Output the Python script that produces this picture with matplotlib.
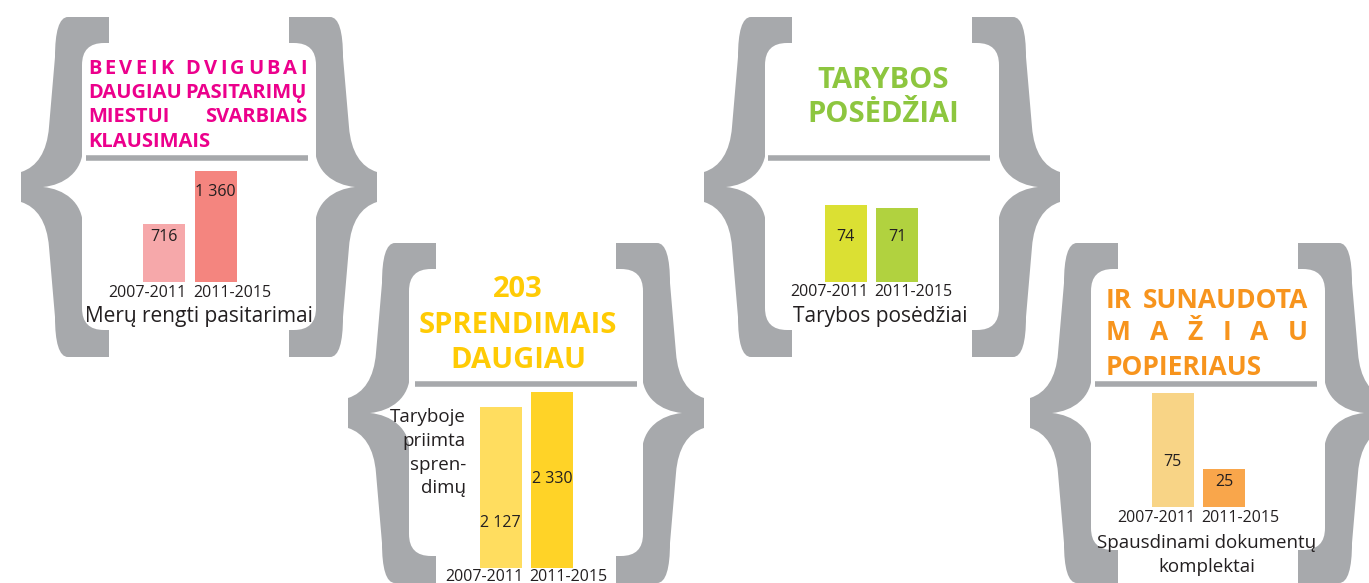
import matplotlib
matplotlib.use('Agg')
import matplotlib.pyplot as plt
from matplotlib.path import Path
from matplotlib.patches import PathPatch, FancyBboxPatch

# duomenys
periods = ["2007-2011", "2011-2015"]
pasitarimai = [716, 1360]
sprendimai = [2127, 2330]
posedziai = [74, 71]
komplektai = [75, 25]

GRAY = "#A7A9AC"
TXT = "#231F20"
FONT = "Open Sans"

W, H = 1369, 583
fig = plt.figure(figsize=(W / 100, H / 100), dpi=100)
bg = fig.add_axes([0, 0, 1, 1])
bg.set_xlim(0, W)
bg.set_ylim(H, 0)
bg.axis('off')
renderer = fig.canvas.get_renderer()

# kairysis riestinis skliaustas (pikseliai, 87 x 340)
M, L, C = Path.MOVETO, Path.LINETO, Path.CURVE4
BRACE = [
    (M, (49, 0)), (L, (90, 0)), (L, (90, 40)), (L, (66, 60)), (L, (64, 130)),
    (C, (64, 155)), (C, (45, 168)), (C, (24, 170)),
    (C, (45, 172)), (C, (64, 185)), (C, (64, 210)),
    (L, (66, 280)), (L, (90, 300)), (L, (90, 340)), (L, (49, 340)),
    (C, (40, 340)), (C, (36, 325)), (C, (36, 300)),
    (L, (30, 230)),
    (C, (28, 205)), (C, (18, 190)), (C, (2, 185)),
    (L, (2, 155)),
    (C, (18, 150)), (C, (28, 135)), (C, (30, 110)),
    (L, (36, 40)),
    (C, (36, 15)), (C, (40, 0)), (C, (49, 0)),
    (Path.CLOSEPOLY, (49, 0)),
]


def brace(x0, y0, right=False):
    verts = []
    for code, (x, y) in BRACE:
        if right:
            x = 87 - x
        verts.append((x0 + x, y0 + y))
    codes = [c for c, _ in BRACE]
    bg.add_patch(PathPatch(Path(verts, codes), fc=GRAY, ec='none', zorder=1))


def frame(x0, y0, box_h=287):
    xr = x0 + 273
    brace(x0, y0)
    brace(xr, y0, right=True)
    bx = x0 + 63
    bg.add_patch(FancyBboxPatch((bx, y0 + 26), xr + 24 - bx, box_h,
                                boxstyle="round,pad=0,rounding_size=22",
                                fc='white', ec='none', zorder=2))


def rule(x0, x1, y):
    bg.plot([x0, x1], [y, y], color=GRAY, lw=4, solid_capstyle='butt', zorder=3)


def width(s, **kw):
    t = bg.text(0, 0, s, **kw)
    w = t.get_window_extent(renderer).width
    t.remove()
    return w


def spread(s, x0, x1, y, **kw):
    # raides isdestomos per visa ploti
    ws = []
    for ch in s:
        if ch == " ":
            ws.append(width("A A", **kw) - width("AA", **kw))
        else:
            ws.append(width(ch, **kw))
    gap = (x1 - x0 - sum(ws)) / (len(s) - 1)
    x = x0
    for ch, w in zip(s, ws):
        if ch != " ":
            bg.text(x, y, ch, ha='left', va='baseline', zorder=4, **kw)
        x += w + gap


def justify(s, x0, x1, y, **kw):
    a, b = s.rsplit(" ", 1)
    bg.text(x0, y, a, ha='left', va='baseline', zorder=4, **kw)
    bg.text(x1, y, b, ha='right', va='baseline', zorder=4, **kw)


def fmt(v):
    return f"{v:,}".replace(",", " ")


def bars(values, colors, center0, bottom, scale, label_pos, year_off=-2):
    spacing, bw, axh = 51.5, 42, 200
    left = center0 - spacing / 2
    ax = fig.add_axes([left / W, (H - bottom) / H, 2 * spacing / W, axh / H])
    ax.set_xlim(-0.5, 1.5)
    ax.set_ylim(0, axh / scale)
    ax.axis('off')
    ax.bar([0, 1], values, width=bw / spacing, color=colors)
    for i, (v, p) in enumerate(zip(values, label_pos)):
        ax.text(i, p, fmt(v), ha='center', va='center', fontsize=11.5,
                color=TXT, family=FONT)
    half = bw / spacing / 2
    ax.annotate(periods[0], (half, 0), xytext=(1, year_off), textcoords='offset points',
                ha='right', va='top', fontsize=11.5, color=TXT, family=FONT,
                annotation_clip=False)
    ax.annotate(periods[1], (1 - half, 0), xytext=(-1, year_off), textcoords='offset points',
                ha='left', va='top', fontsize=11.5, color=TXT, family=FONT,
                annotation_clip=False)


title_kw = dict(fontsize=21, fontweight='bold', family=FONT)
sub_kw = dict(fontsize=13.5, color=TXT, family=FONT, zorder=4)
big_sub = dict(sub_kw, fontsize=15)

# 1: mero pasitarimai
frame(19, 17)
mkw = dict(fontsize=14.5, fontweight='bold', family=FONT, color="#EC008C")
spread("BEVEIK DVIGUBAI", 88, 307, 74, **mkw)
justify("DAUGIAU PASITARIMŲ", 88, 307, 98, **mkw)
justify("MIESTUI SVARBIAIS", 88, 307, 122, **mkw)
bg.text(88, 147, "KLAUSIMAIS", ha='left', va='baseline', zorder=4, **mkw)
rule(86, 308, 158)
bg.text(199, 322, "Merų rengti pasitarimai", ha='center', va='baseline', **big_sub)
bars(pasitarimai, ["#F6A8AA", "#F4857F"], 164, 282, 0.0815, [552, 1104])

# 2: sprendimai
frame(346, 243)
for s, y in zip(["203", "SPRENDIMAIS", "DAUGIAU"], [297, 333, 368]):
    bg.text(518, y, s, ha='center', va='baseline', color="#FFCB05", zorder=4, **title_kw)
rule(415, 637, 384)
for s, y in zip(["Taryboje", "priimta", "spren-", "dimų"], [422, 446, 470, 493]):
    bg.text(466, y, s, ha='right', va='baseline', **sub_kw)
bars(sprendimai, ["#FFDD5F", "#FFD327"], 500.5, 568, 0.0756, [595, 1177], year_off=-0.5)

# 3: tarybos posedziai
frame(702, 17)
for s, y in zip(["TARYBOS", "POSĖDŽIAI"], [88, 122]):
    bg.text(883, y, s, ha='center', va='baseline', color="#8DC63F", zorder=4, **title_kw)
rule(768, 990, 158)
bg.text(880, 322, "Tarybos posėdžiai", ha='center', va='baseline', **big_sub)
bars(posedziai, ["#DBE033", "#B1D23F"], 845.5, 281.5, 1.04, [43, 43])

# 4: popierius
frame(1028, 243, box_h=281)
okw = dict(title_kw, fontsize=19, color="#F7941D")
justify("IR SUNAUDOTA", 1106, 1308, 308, **okw)
spread("MAŽIAU", 1106, 1308, 340, **okw)
bg.text(1106, 375, "POPIERIAUS", ha='left', va='baseline', zorder=4, **okw)
rule(1095, 1317, 384)
bg.text(1207, 548, "Spausdinami dokumentų", ha='center', va='baseline', **sub_kw)
bg.text(1207, 572, "komplektai", ha='center', va='baseline', **sub_kw)
bars(komplektai, ["#F8D486", "#F9A64B"], 1172.5, 507, 1.52, [29.6, 16.4])

fig.savefig("out.png", dpi=100)
